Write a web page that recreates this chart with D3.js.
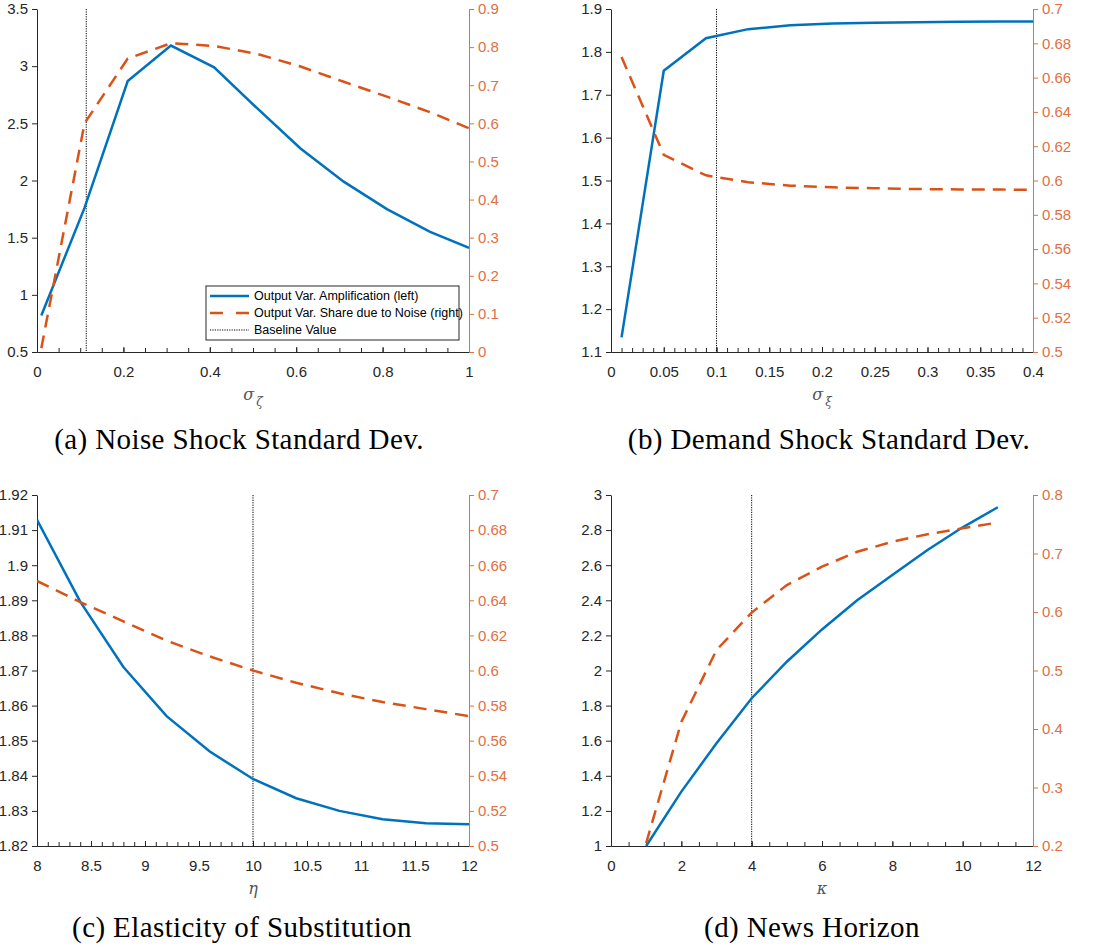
<!DOCTYPE html>
<html>
<head>
<meta charset="utf-8">
<script src="https://cdn.jsdelivr.net/npm/d3@7"></script>
<style>
  body { margin: 0; background: #fff; }
  svg { display: block; }
</style>
</head>
<body>
<div id="chart"></div>
<script>
// --- data ---
// (a) noise shock std dev
const sigmaZeta = [0.01, 0.11, 0.21, 0.31, 0.41, 0.51, 0.61, 0.71, 0.81, 0.91, 1.0];
const ampA = [0.82, 1.76, 2.87, 3.18, 2.99, 2.63, 2.28, 1.99, 1.75, 1.55, 1.41];
const shareA = [0.01, 0.60, 0.77, 0.81, 0.803, 0.782, 0.749, 0.709, 0.67, 0.629, 0.587];
const baseA = 0.114;

// (b) demand shock std dev
const sigmaXi = [0.01, 0.05, 0.09, 0.13, 0.17, 0.21, 0.25, 0.29, 0.33, 0.37, 0.41];
const ampB = [1.134, 1.756, 1.832, 1.853, 1.862, 1.866, 1.868, 1.869, 1.870, 1.871, 1.871];
const shareB = [0.672, 0.615, 0.603, 0.599, 0.597, 0.596, 0.5955, 0.595, 0.5948, 0.5947, 0.5945];
const baseB = 0.1;

// (c) elasticity of substitution
const eta = [8, 8.4, 8.8, 9.2, 9.6, 10, 10.4, 10.8, 11.2, 11.6, 12];
const ampC = [1.9129, 1.8896, 1.871, 1.857, 1.8469, 1.8391, 1.8336, 1.830, 1.8276, 1.8265, 1.8262];
const shareC = [0.651, 0.639, 0.628, 0.617, 0.608, 0.600, 0.593, 0.587, 0.582, 0.578, 0.574];
const baseC = 10;

// (d) news horizon
const kappa = [1, 2, 3, 4, 5, 6, 7, 8, 9, 10, 11];
const ampD = [1.0, 1.31, 1.585, 1.842, 2.05, 2.234, 2.40, 2.544, 2.687, 2.816, 2.93];
const shareD = [0.205, 0.412, 0.535, 0.599, 0.646, 0.6775, 0.703, 0.720, 0.733, 0.743, 0.753];
const baseD = 4;

const legendLabels = ["Output Var. Amplification (left)", "Output Var. Share due to Noise (right)", "Baseline Value"];

const BLUE = "#0072BD", ORANGE = "#D95319", AXIS_R = "#E07044", AXIS_L = "#262626";

const panels = [
  {id: "a", x: sigmaZeta, amp: ampA, share: shareA, base: baseA,
   box: [37, 469, 9, 352], xDom: [0, 1], xTicks: d3.range(0, 1.01, 0.2), xMinor: 0.05,
   yL: [0.5, 3.5], yLTicks: d3.range(0.5, 3.51, 0.5), yR: [0, 0.9], yRTicks: d3.range(0, 0.91, 0.1),
   xlab: ["σ", "ζ"], caption: "(a) Noise Shock Standard Dev.", capX: 239, capY: 449, legend: true},
  {id: "b", x: sigmaXi, amp: ampB, share: shareB, base: baseB,
   box: [611, 1033, 9, 352], xDom: [0, 0.4], xTicks: d3.range(0, 0.401, 0.05), xMinor: 0.01,
   yL: [1.1, 1.9], yLTicks: d3.range(1.1, 1.901, 0.1), yR: [0.5, 0.7], yRTicks: d3.range(0.5, 0.701, 0.02),
   xlab: ["σ", "ξ"], caption: "(b) Demand Shock Standard Dev.", capX: 829, capY: 449},
  {id: "c", x: eta, amp: ampC, share: shareC, base: baseC,
   box: [37, 469, 495, 846], xDom: [8, 12], xTicks: d3.range(8, 12.01, 0.5), xMinor: 0.1,
   yL: [1.82, 1.92], yLTicks: d3.range(1.82, 1.9201, 0.01), yR: [0.5, 0.7], yRTicks: d3.range(0.5, 0.701, 0.02),
   xlab: ["η", ""], caption: "(c) Elasticity of Substitution", capX: 242, capY: 937},
  {id: "d", x: kappa, amp: ampD, share: shareD, base: baseD,
   box: [611, 1033, 495, 846], xDom: [0, 12], xTicks: d3.range(0, 12.01, 2), xMinor: 0.5,
   yL: [1, 3], yLTicks: d3.range(1, 3.01, 0.2), yR: [0.2, 0.8], yRTicks: d3.range(0.2, 0.801, 0.1),
   xlab: ["κ", ""], caption: "(d) News Horizon", capX: 812, capY: 937}
];

const fmt = d => String(+d.toFixed(4));

const svg = d3.select("#chart").append("svg")
  .attr("width", 1103).attr("height", 949)
  .style("font-family", "'Liberation Sans', Arial, sans-serif");

panels.forEach(p => {
  const [x0, x1, y0, y1] = p.box;
  const x = d3.scaleLinear().domain(p.xDom).range([x0, x1]);
  const yL = d3.scaleLinear().domain(p.yL).range([y1, y0]);
  const yR = d3.scaleLinear().domain(p.yR).range([y1, y0]);
  const g = svg.append("g");

  g.append("clipPath").attr("id", "clip-" + p.id)
    .append("rect").attr("x", x0).attr("y", y0 - 2).attr("width", x1 - x0).attr("height", y1 - y0 + 4);

  // bottom axis: major + minor ticks pointing inward
  const minor = d3.range(p.xDom[0], p.xDom[1] + 1e-9, p.xMinor);
  g.append("g").attr("transform", `translate(0,${y1})`)
    .call(d3.axisBottom(x).tickValues(minor).tickSize(-4).tickFormat(""))
    .call(a => a.select(".domain").remove())
    .selectAll("line").attr("stroke", AXIS_L);
  const xa = g.append("g").attr("transform", `translate(0,${y1})`)
    .call(d3.axisBottom(x).tickValues(p.xTicks).tickSize(-5).tickFormat(fmt).tickPadding(14))
    .call(a => a.select(".domain").attr("stroke", AXIS_L));
  xa.selectAll("line").attr("stroke", AXIS_L);
  xa.selectAll("text").attr("fill", AXIS_L).style("font-size", "15px");

  // left axis
  const la = g.append("g").attr("transform", `translate(${x0},0)`)
    .call(d3.axisLeft(yL).tickValues(p.yLTicks).tickSize(5).tickSizeOuter(0).tickFormat(fmt).tickPadding(4));
  la.select(".domain").attr("stroke", AXIS_L);
  la.selectAll("line").attr("stroke", AXIS_L);
  la.selectAll("text").attr("fill", AXIS_L).style("font-size", "15px");

  // right axis
  const ra = g.append("g").attr("transform", `translate(${x1},0)`)
    .call(d3.axisRight(yR).tickValues(p.yRTicks).tickSize(5).tickSizeOuter(0).tickFormat(fmt).tickPadding(4));
  ra.select(".domain").attr("stroke", AXIS_R);
  ra.selectAll("line").attr("stroke", AXIS_R);
  ra.selectAll("text").attr("fill", AXIS_R).style("font-size", "15px");

  // baseline marker
  g.append("line")
    .attr("x1", x(p.base)).attr("x2", x(p.base)).attr("y1", y0).attr("y2", y1)
    .attr("stroke", "#000").attr("stroke-width", 1).attr("stroke-dasharray", "1.2,1.2");

  const plot = g.append("g").attr("clip-path", `url(#clip-${p.id})`);
  const idx = d3.range(p.x.length);
  plot.append("path")
    .attr("d", d3.line().x(i => x(p.x[i])).y(i => yL(p.amp[i]))(idx))
    .attr("fill", "none").attr("stroke", BLUE).attr("stroke-width", 2.5);
  plot.append("path")
    .attr("d", d3.line().x(i => x(p.x[i])).y(i => yR(p.share[i]))(idx))
    .attr("fill", "none").attr("stroke", ORANGE).attr("stroke-width", 2.5)
    .attr("stroke-dasharray", "13,8");

  // x label
  const lab = g.append("text")
    .attr("x", (x0 + x1) / 2).attr("y", y1 + 48)
    .attr("text-anchor", "middle")
    .style("font-family", "'DejaVu Serif', serif").style("font-style", "italic")
    .style("font-size", "16px").attr("fill", "#555");
  lab.append("tspan").text(p.xlab[0]);
  if (p.xlab[1]) lab.append("tspan").attr("dx", 2).attr("dy", 6).style("font-size", "12px").text(p.xlab[1]);

  // caption
  svg.append("text")
    .attr("x", p.capX).attr("y", p.capY)
    .attr("text-anchor", "middle")
    .style("font-family", "'Liberation Serif', 'Times New Roman', serif")
    .style("font-size", "29px").style("letter-spacing", "0.4px").attr("fill", "#000")
    .text(p.caption);

  if (p.legend) {
    const lg = g.append("g").attr("transform", "translate(206,286)");
    lg.append("rect").attr("width", 253).attr("height", 54)
      .attr("fill", "#fff").attr("stroke", "#262626").attr("stroke-width", 1);
    const styles = [
      {stroke: BLUE, w: 2.5, dash: null},
      {stroke: ORANGE, w: 2.5, dash: "13,13"},
      {stroke: "#000", w: 1, dash: "1.2,1.2"}
    ];
    legendLabels.forEach((t, i) => {
      const yy = 10 + i * 17;
      lg.append("line").attr("x1", 4).attr("x2", 43).attr("y1", yy).attr("y2", yy)
        .attr("stroke", styles[i].stroke).attr("stroke-width", styles[i].w)
        .attr("stroke-dasharray", styles[i].dash);
      lg.append("text").attr("x", 48).attr("y", yy).attr("dy", "0.35em")
        .style("font-size", "12.5px").attr("fill", "#000").text(t);
    });
  }
});
</script>
</body>
</html>
